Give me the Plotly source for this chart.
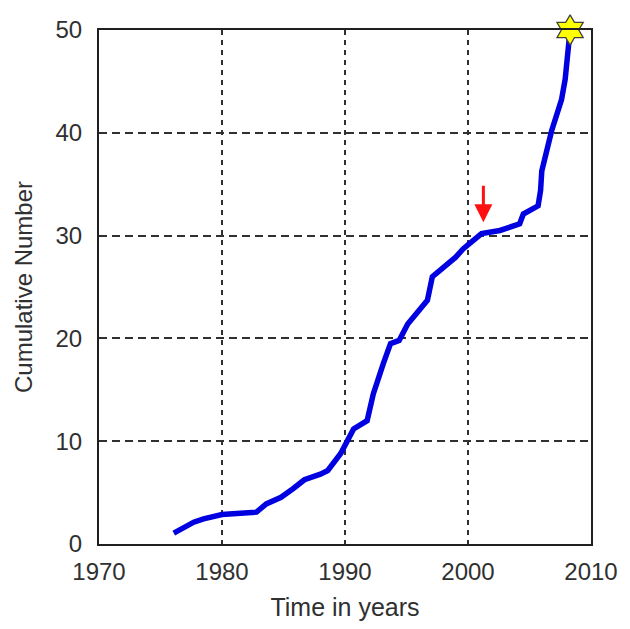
import plotly.graph_objects as go

# Cumulative count over time
years = [1976.08, 1977.7, 1978.5, 1980.0, 1981.5, 1982.8, 1983.6, 1984.8,
         1985.8, 1986.7, 1988.0, 1988.6, 1989.65, 1990.3, 1990.7, 1991.8,
         1992.3, 1993.1, 1993.7, 1994.4, 1995.1, 1996.7, 1997.1, 1997.5,
         1999.0, 1999.6, 2001.1, 2002.6, 2004.2, 2004.5, 2005.7, 2005.9,
         2006.0, 2006.8, 2007.6, 2007.9, 2008.2, 2008.3]
counts = [1.05, 2.12, 2.45, 2.87, 3.0, 3.1, 3.9, 4.55,
          5.4, 6.25, 6.8, 7.15, 8.8, 10.2, 11.2, 12.0,
          14.6, 17.5, 19.5, 19.8, 21.4, 23.7, 26.0, 26.4,
          27.9, 28.7, 30.2, 30.5, 31.15, 32.1, 32.9, 34.4,
          36.3, 40.2, 43.2, 45.2, 48.2, 50.0]

# Highlighted latest point (star) and marked event (red arrow)
star_year = [2008.3]
star_count = [50.0]
arrow_year = 2001.25
arrow_from = 35.0
arrow_to = 31.3

x_ticks = [1970, 1980, 1990, 2000, 2010]
y_ticks = [0, 10, 20, 30, 40, 50]

FONT = "Liberation Sans"
TEXT = "#303030"

fig = go.Figure()

fig.add_trace(go.Scatter(
    x=years, y=counts, mode="lines",
    line=dict(color="#0000e0", width=5.5),
    hoverinfo="skip", showlegend=False,
))

fig.add_trace(go.Scatter(
    x=star_year, y=star_count, mode="markers",
    marker=dict(symbol="hexagram", size=23, color="#ffff00",
                line=dict(color="#404040", width=1.3)),
    cliponaxis=False, hoverinfo="skip", showlegend=False,
))

fig.add_annotation(
    x=arrow_year, y=arrow_to, ax=arrow_year, ay=arrow_from,
    xref="x", yref="y", axref="x", ayref="y",
    showarrow=True, arrowhead=2, arrowsize=1.2, arrowwidth=3,
    arrowcolor="#ff1010", text="",
)

axis_common = dict(
    showline=True, linecolor="#202020", linewidth=2, mirror=True,
    ticks="", showgrid=True, gridcolor="#303030", gridwidth=1.5,
    zeroline=False,
    tickfont=dict(family=FONT, size=24, color=TEXT),
)

fig.update_xaxes(
    range=[1970, 2010], tickvals=x_ticks, ticktext=[str(v) for v in x_ticks],
    griddash="5px,5px", ticklabelstandoff=5,
    title=dict(text="Time in years", font=dict(family=FONT, size=25, color=TEXT),
               standoff=15),
    **axis_common,
)
fig.update_yaxes(
    range=[0, 50], tickvals=y_ticks, ticktext=[str(v) for v in y_ticks],
    griddash="8px,5px", ticklabelstandoff=10,
    title=dict(text="Cumulative Number", font=dict(family=FONT, size=24, color=TEXT),
               standoff=16),
    **axis_common,
)

fig.update_layout(
    width=630, height=629,
    margin=dict(l=99, r=34, t=30, b=85),
    paper_bgcolor="white", plot_bgcolor="white",
)

fig.write_html("out.html")
